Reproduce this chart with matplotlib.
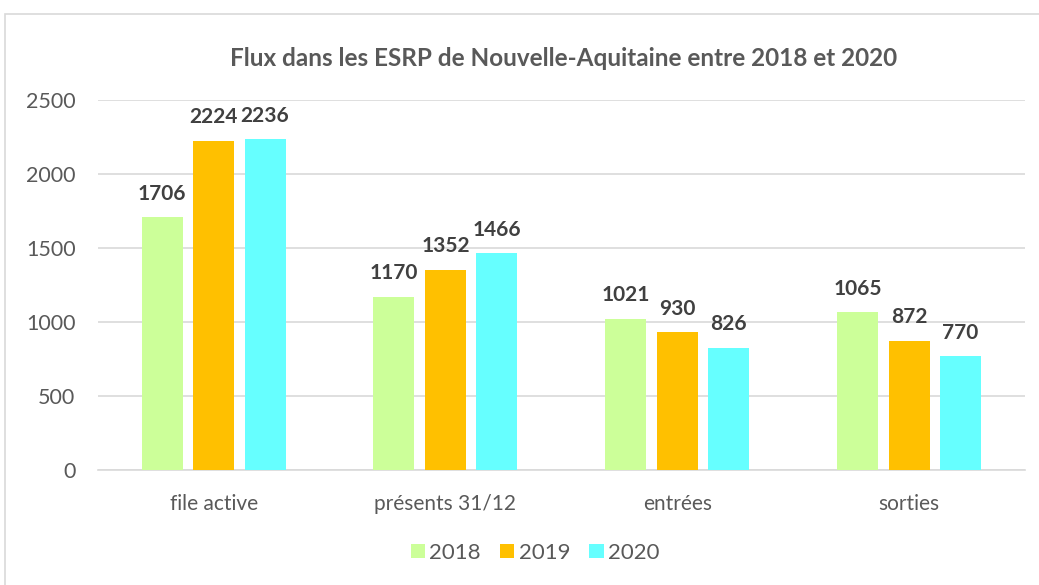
import matplotlib.pyplot as plt
import numpy as np
from matplotlib.patches import Rectangle

categories = ["file active", "présents 31/12", "entrées", "sorties"]
years = ["2018", "2019", "2020"]
v2018 = [1706, 1170, 1021, 1065]
v2019 = [2224, 1352, 930, 872]
v2020 = [2236, 1466, 826, 770]
colors = ["#CCFF99", "#FFC000", "#66FFFF"]

plt.rcParams['font.family'] = ['Lato', 'DejaVu Sans']

fig = plt.figure(figsize=(10.39, 5.85), dpi=100)
ax = fig.add_axes([0.094, 0.1966, 0.8925, 0.6325])

# cadre gris autour du graphique
fig.patches.append(Rectangle((0.005, -0.1), 1.2, 1.1 - 14/585, transform=fig.transFigure,
                             fill=False, edgecolor="#D9D9D9", linewidth=1.2))

x = np.arange(len(categories))
step = 0.222
width = 0.177
for i, (vals, year) in enumerate(zip([v2018, v2019, v2020], years)):
    bars = ax.bar(x + (i - 1) * step, vals, width, color=colors[i], label=year, zorder=3)
    for b, v in zip(bars, vals):
        ax.text(b.get_x() + b.get_width() / 2, v + 118, str(v), ha="center", va="baseline",
                fontsize=15, fontweight="bold", color="#404040")

ax.set_xlim(-0.5, 3.5)
ax.set_ylim(0, 2500)
ax.set_yticks(range(0, 2501, 500))
ax.yaxis.grid(True, color="#D9D9D9", linewidth=1.2, zorder=0)
for s in ["top", "right", "left"]:
    ax.spines[s].set_visible(False)
ax.spines["bottom"].set_color("#D9D9D9")
ax.spines["bottom"].set_linewidth(1.2)
ax.tick_params(length=0, labelcolor="#595959")
ax.tick_params(axis="y", pad=16, labelsize=15.5)
ax.tick_params(axis="x", pad=17, labelsize=15)
ax.set_xticks(x)
ax.set_xticklabels(categories)

fig.text(0.542, 0.9, "Flux dans les ESRP de Nouvelle-Aquitaine entre 2018 et 2020",
         ha="center", va="center", fontsize=17.5, fontweight="bold", color="#595959")

fig.legend(loc="center", bbox_to_anchor=(0.515, 0.055), ncol=3, frameon=False,
           fontsize=16, labelcolor="#595959", handlelength=0.65, handleheight=0.65,
           handletextpad=0.2, columnspacing=0.85)

fig.savefig("out.png", dpi=100)
